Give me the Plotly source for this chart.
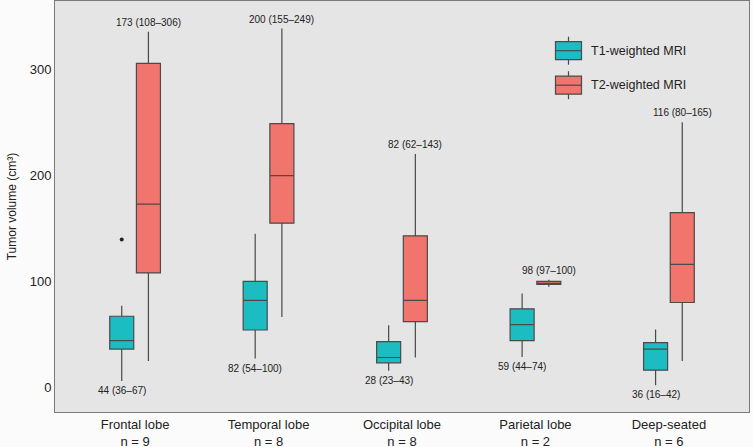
import plotly.graph_objects as go

categories = ["Frontal lobe", "Temporal lobe", "Occipital lobe", "Parietal lobe", "Deep-seated"]
n_counts = [9, 8, 8, 2, 6]

# T1-weighted MRI box stats
t1_low = [5.7, 27, 15.4, 28.6, 1.9]
t1_q1 = [36, 54, 23, 44, 16]
t1_med = [44, 82, 28, 59, 36]
t1_q3 = [67, 100, 43, 74, 42]
t1_high = [77, 145, 58.5, 88.4, 54.4]
t1_outlier_cat = [1]
t1_outlier_val = [139.6]

# T2-weighted MRI box stats
t2_low = [24.8, 66.3, 28, 95, 24.8]
t2_q1 = [108, 155, 62, 97, 80]
t2_med = [173, 200, 82, 98, 116]
t2_q3 = [306, 249, 143, 100, 165]
t2_high = [336, 339, 220.4, 101.6, 250.3]

t1_labels = ["44 (36–67)", "82 (54–100)", "28 (23–43)", "59 (44–74)", "36 (16–42)"]
t2_labels = ["173 (108–306)", "200 (155–249)", "82 (62–143)", "98 (97–100)", "116 (80–165)"]

series_names = ["T1-weighted MRI", "T2-weighted MRI"]
T1_COLOR = "#1CBDC2"
T2_COLOR = "#F1756D"
LINE = "#4a4a4a"
OFF = 0.1
W = 0.18

W_PX, H_PX = 753, 447
ML, MR, MT, MB = 55, 4, 1, 35
PW, PH = W_PX - ML - MR, H_PX - MT - MB

pos = list(range(1, len(categories) + 1))
fig = go.Figure()
fig.add_trace(go.Box(
    name=series_names[0], x=[p - OFF for p in pos],
    q1=t1_q1, median=t1_med, q3=t1_q3, lowerfence=t1_low, upperfence=t1_high,
    width=W, fillcolor=T1_COLOR, line=dict(color=LINE, width=1.2),
    whiskerwidth=0, boxpoints=False, showlegend=False,
))
fig.add_trace(go.Box(
    name=series_names[1], x=[p + OFF for p in pos],
    q1=t2_q1, median=t2_med, q3=t2_q3, lowerfence=t2_low, upperfence=t2_high,
    width=W, fillcolor=T2_COLOR, line=dict(color=LINE, width=1.2),
    whiskerwidth=0, boxpoints=False, showlegend=False,
))
fig.add_trace(go.Scatter(
    x=[c - OFF for c in t1_outlier_cat], y=t1_outlier_val, mode="markers",
    marker=dict(color="#222222", size=4), showlegend=False, hoverinfo="skip",
))

for i, p in enumerate(pos):
    fig.add_annotation(x=p - OFF, y=t1_low[i], text=t1_labels[i], showarrow=False,
                       yanchor="top", yshift=-2, font=dict(size=10, color="#222222"))
    fig.add_annotation(x=p + OFF, y=t2_high[i], text=t2_labels[i], showarrow=False,
                       yanchor="bottom", yshift=2, font=dict(size=10, color="#222222"))

# manual legend (boxplot-style keys), positioned in paper coordinates
def px_x(x):
    return (x - ML) / PW

def px_y(y):
    return 1 - (y - MT) / PH

for k, (name, color) in enumerate(zip(series_names, [T1_COLOR, T2_COLOR])):
    cy = 50.7 + k * 34.5
    x0, x1, xc = 555.5, 581.5, 568.5
    fig.add_shape(type="line", xref="paper", yref="paper", x0=px_x(xc), x1=px_x(xc),
                  y0=px_y(cy - 14), y1=px_y(cy + 14), line=dict(color=LINE, width=1.2))
    fig.add_shape(type="rect", xref="paper", yref="paper", x0=px_x(x0), x1=px_x(x1),
                  y0=px_y(cy - 9), y1=px_y(cy + 9), fillcolor=color,
                  line=dict(color=LINE, width=1.2))
    fig.add_shape(type="line", xref="paper", yref="paper", x0=px_x(x0), x1=px_x(x1),
                  y0=px_y(cy), y1=px_y(cy), line=dict(color=LINE, width=1.2))
    fig.add_annotation(xref="paper", yref="paper", x=px_x(589), y=px_y(cy), text=name,
                       showarrow=False, xanchor="left", yanchor="middle",
                       font=dict(size=12.5, color="#222222"))

fig.update_layout(
    width=W_PX, height=H_PX,
    margin=dict(l=ML, r=MR, t=MT, b=MB),
    plot_bgcolor="#E5E5E5", paper_bgcolor="#FBFBFB",
    font=dict(family="Liberation Sans, Arial, sans-serif", color="#222222", size=13),
    boxmode="overlay", showlegend=False,
    xaxis=dict(range=[0.4, 5.6], tickvals=pos,
               ticktext=[f"{c}<br>n = {n}" for c, n in zip(categories, n_counts)],
               showgrid=False, zeroline=False, showline=True, linecolor="#7a7a7a",
               linewidth=1, mirror=True, ticks="", tickfont=dict(size=13),
               automargin=False),
    yaxis=dict(range=[-23.5, 365], tickvals=[0, 100, 200, 300],
               showgrid=False, zeroline=False, showline=True, linecolor="#7a7a7a",
               linewidth=1, mirror=True, ticks="", tickfont=dict(size=13),
               automargin=False,
               title=dict(text="Tumor volume (cm³)", font=dict(size=12), standoff=10)),
)

fig.write_html("out.html", config={"displayModeBar": False},
               post_script="document.body.style.margin='0px';document.body.style.padding='0px';")
